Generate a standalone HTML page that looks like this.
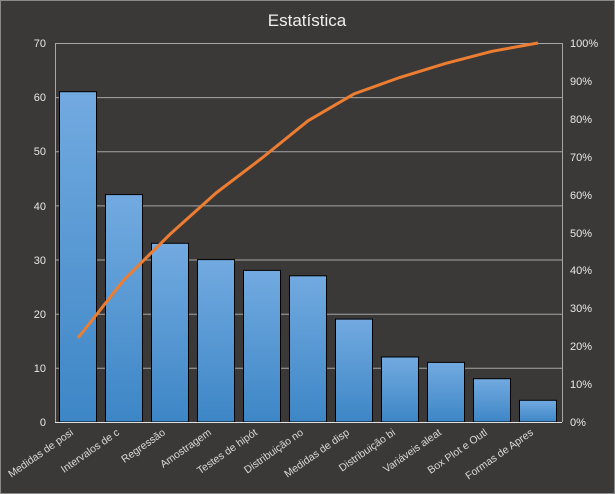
<!DOCTYPE html>
<html><head><meta charset="utf-8"><style>
body{margin:0;background:#3a3938;}
svg{display:block;font-family:"Liberation Sans",sans-serif;}
</style></head><body>
<svg width="615" height="494" viewBox="0 0 615 494">
<defs><linearGradient id="g" x1="0" y1="0" x2="0" y2="1">
<stop offset="0" stop-color="#72aae0"/><stop offset="1" stop-color="#3d86c6"/></linearGradient></defs>
<rect x="0.5" y="0.5" width="614" height="493" fill="#3a3938" stroke="#8a8a8a"/>
<text x="307" y="26" text-anchor="middle" font-size="17" fill="#f0f0f0">Estatística</text>
<g stroke="#a6a6a6" stroke-width="1">
<line x1="55" y1="43.5" x2="562" y2="43.5"/><line x1="55" y1="97.6" x2="562" y2="97.6"/>
<line x1="55" y1="151.7" x2="562" y2="151.7"/><line x1="55" y1="205.9" x2="562" y2="205.9"/>
<line x1="55" y1="260" x2="562" y2="260"/><line x1="55" y1="314.2" x2="562" y2="314.2"/>
<line x1="55" y1="368.3" x2="562" y2="368.3"/>
<line x1="55.5" y1="43" x2="55.5" y2="422"/><line x1="562.5" y1="43" x2="562.5" y2="422"/>
</g>
<g fill="#e8e8e8" font-size="11" text-anchor="end">
<text x="46" y="47">70</text><text x="46" y="101">60</text><text x="46" y="155">50</text><text x="46" y="210">40</text><text x="46" y="264">30</text><text x="46" y="318">20</text><text x="46" y="372">10</text><text x="46" y="426">0</text>
</g>
<g fill="#e8e8e8" font-size="11">
<text x="570" y="47">100%</text><text x="570" y="85">90%</text><text x="570" y="123">80%</text><text x="570" y="161">70%</text><text x="570" y="199">60%</text><text x="570" y="237">50%</text><text x="570" y="274">40%</text><text x="570" y="312">30%</text><text x="570" y="350">20%</text><text x="570" y="388">10%</text><text x="570" y="426">0%</text>
</g>
<g fill="url(#g)" stroke="#000" stroke-width="1">
<rect x="59.5" y="91.7" width="37" height="330.3"/>
<rect x="105.5" y="194.6" width="37" height="227.4"/>
<rect x="151.5" y="243.3" width="37" height="178.7"/>
<rect x="197.5" y="259.6" width="37" height="162.4"/>
<rect x="243.5" y="270.4" width="37" height="151.6"/>
<rect x="289.5" y="275.8" width="37" height="146.2"/>
<rect x="335.5" y="319.1" width="37" height="102.9"/>
<rect x="381.5" y="357" width="37" height="65"/>
<rect x="427.5" y="362.4" width="37" height="59.6"/>
<rect x="473.5" y="378.7" width="37" height="43.3"/>
<rect x="519.5" y="400.3" width="37" height="21.7"/>
</g>
<line x1="55" y1="422.5" x2="562" y2="422.5" stroke="#e0e0e0" stroke-width="1"/>
<polyline fill="none" stroke="#ed7d31" stroke-width="3" stroke-linejoin="round" points="78,337.9 124,279.8 170,234.3 216,193.0 262,158.0 308,120.8 354,93.9 400,77.4 446,63.3 492,51.3 538,43"/>
<g fill="#d9d9d9" font-size="10.5" text-anchor="end">
<text transform="translate(74,434) rotate(-35)">Medidas de posi</text>
<text transform="translate(120,434) rotate(-35)">Intervalos de c</text>
<text transform="translate(166,434) rotate(-35)">Regressão</text>
<text transform="translate(212,434) rotate(-35)">Amostragem</text>
<text transform="translate(258,434) rotate(-35)">Testes de hipót</text>
<text transform="translate(304,434) rotate(-35)">Distribuição no</text>
<text transform="translate(350,434) rotate(-35)">Medidas de disp</text>
<text transform="translate(396,434) rotate(-35)">Distribuição bi</text>
<text transform="translate(442,434) rotate(-35)">Variáveis aleat</text>
<text transform="translate(488,434) rotate(-35)">Box Plot e Outl</text>
<text transform="translate(534,434) rotate(-35)">Formas de Apres</text>
</g>
</svg>
</body></html>
